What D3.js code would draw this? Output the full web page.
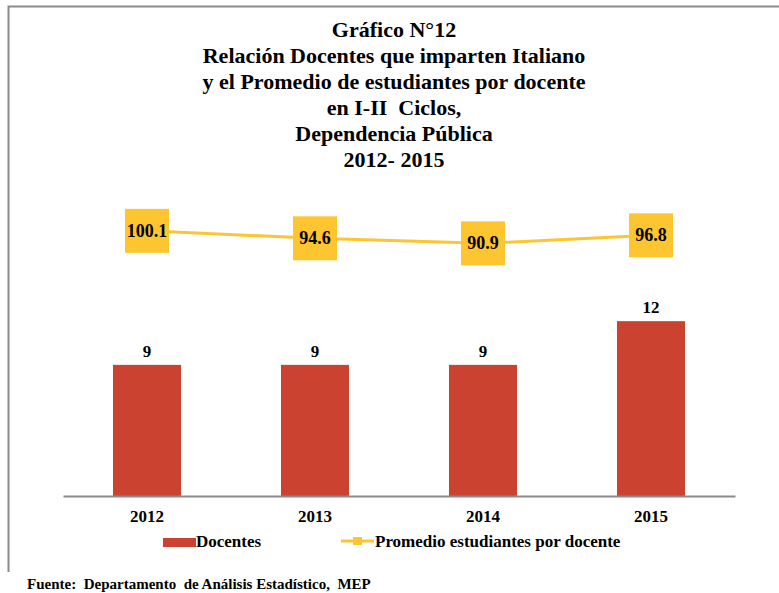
<!DOCTYPE html>
<html>
<head>
<meta charset="utf-8">
<script src="https://cdn.jsdelivr.net/npm/d3@7"></script>
<style>
  body { margin: 0; background: #fff; }
  text { font-family: "Liberation Serif", "Times New Roman", serif; font-weight: bold; }
</style>
</head>
<body>
<div id="chart"></div>
<script>
// data
const years = ['2012', '2013', '2014', '2015'];
const docentes = [9, 9, 9, 12];
const promedio = [100.1, 94.6, 90.9, 96.8];
const titleLines = [
  'Gráfico N°12',
  'Relación Docentes que imparten Italiano',
  'y el Promedio de estudiantes por docente',
  'en I-II  Ciclos,',
  'Dependencia Pública',
  '2012- 2015'
];
const legendNames = ['Docentes', 'Promedio estudiantes por docente'];
const source = 'Fuente:  Departamento  de Análisis Estadístico,  MEP';

const width = 779, height = 593;
const barColor = '#cb4230';
const lineColor = '#fdc530';

const svg = d3.select('#chart').append('svg')
  .attr('width', width)
  .attr('height', height);

// frame
svg.append('path')
  .attr('d', 'M8.5,572 V6.5 H779')
  .attr('fill', 'none')
  .attr('stroke', '#8a8a8a')
  .attr('stroke-width', 2);

// title
svg.append('g').selectAll('text')
  .data(titleLines)
  .enter().append('text')
  .attr('x', 394)
  .attr('y', (d, i) => 37 + i * 25.9)
  .attr('text-anchor', 'middle')
  .attr('font-size', 22)
  .attr('fill', '#000')
  .style('white-space', 'pre')
  .text(d => d);

const x = d3.scaleBand().domain(years).range([63, 735]).paddingInner(0.595).paddingOuter(0.2975);
const y = d3.scaleLinear().domain([0, 13]).range([496, 496 - 13 * 14.57]);
const y2 = d3.scaleLinear().domain([-95, 120]).range([496, 496 - 215 * 1.359]);

// bars
svg.append('g').selectAll('rect')
  .data(docentes)
  .enter().append('rect')
  .attr('x', (d, i) => x(years[i]))
  .attr('y', d => y(d))
  .attr('width', x.bandwidth())
  .attr('height', d => y(0) - y(d))
  .attr('fill', barColor);

svg.append('g').selectAll('text')
  .data(docentes)
  .enter().append('text')
  .attr('x', (d, i) => x(years[i]) + x.bandwidth() / 2)
  .attr('y', d => y(d) - 8)
  .attr('text-anchor', 'middle')
  .attr('font-size', 17)
  .text(d => d);

// x axis
const xAxis = svg.append('g')
  .attr('transform', `translate(0,${y(0)})`)
  .call(d3.axisBottom(x).tickSize(0).tickPadding(14));
xAxis.select('.domain').attr('stroke', '#8a8a8a').attr('stroke-width', 2);
xAxis.selectAll('text')
  .attr('dy', null)
  .attr('y', 26)
  .attr('font-size', 17)
  .attr('fill', '#000');

// line
const cx = (d, i) => x(years[i]) + x.bandwidth() / 2;
const line = d3.line().x(cx).y(d => y2(d));
svg.append('path')
  .datum(promedio)
  .attr('d', line)
  .attr('fill', 'none')
  .attr('stroke', lineColor)
  .attr('stroke-width', 3);

const marks = svg.append('g').selectAll('g')
  .data(promedio)
  .enter().append('g')
  .attr('transform', (d, i) => `translate(${cx(d, i)},${y2(d)})`);
marks.append('rect')
  .attr('x', -22).attr('y', -22)
  .attr('width', 44).attr('height', 44)
  .attr('fill', lineColor);
marks.append('text')
  .attr('y', 6)
  .attr('text-anchor', 'middle')
  .attr('font-size', 18)
  .text(d => d.toFixed(1));

// legend
const lg = svg.append('g');
lg.append('rect')
  .attr('x', 163).attr('y', 538).attr('width', 33).attr('height', 9)
  .attr('fill', barColor);
lg.append('text')
  .attr('x', 196).attr('y', 547)
  .attr('font-size', 17)
  .text(legendNames[0]);
lg.append('line')
  .attr('x1', 341).attr('x2', 374).attr('y1', 541).attr('y2', 541)
  .attr('stroke', lineColor).attr('stroke-width', 3);
lg.append('rect')
  .attr('x', 353).attr('y', 537).attr('width', 9).attr('height', 8)
  .attr('fill', lineColor);
lg.append('text')
  .attr('x', 375).attr('y', 547)
  .attr('font-size', 17)
  .text(legendNames[1]);

// source
svg.append('text')
  .attr('x', 27).attr('y', 589)
  .attr('font-size', 15)
  .style('white-space', 'pre')
  .text(source);
</script>
</body>
</html>
